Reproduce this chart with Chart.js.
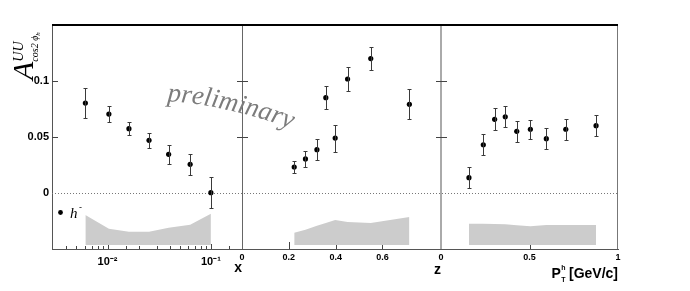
<!DOCTYPE html>
<html>
<head>
<meta charset="utf-8">
<script src="https://cdn.jsdelivr.net/npm/chart.js@4"></script>
<style>
  html, body { margin: 0; padding: 0; background: #fff; }
  #wrap { width: 690px; height: 291px; }
</style>
</head>
<body>
<div id="wrap"><canvas id="c" width="690" height="291"></canvas></div>
<script>
// A_UU cos2phi_h, h- : vs x (log), z, pT
var xBins = [0.0061, 0.0103, 0.0161, 0.0252, 0.039, 0.063, 0.1];
var xVals = [0.0803, 0.0705, 0.0574, 0.047, 0.0345, 0.0256, 0.0003];
var xErrs = [0.0137, 0.0074, 0.006, 0.0065, 0.0085, 0.0094, 0.014];
var xSys  = [-0.0196, -0.0319, -0.0345, -0.0345, -0.031, -0.0283, -0.0185];

var zBins = [0.223, 0.271, 0.32, 0.358, 0.398, 0.451, 0.55, 0.715];
var zVals = [0.0232, 0.0304, 0.0387, 0.0851, 0.049, 0.1018, 0.12, 0.0792];
var zErrs = [0.005, 0.007, 0.0094, 0.0105, 0.012, 0.0107, 0.0101, 0.0134];
var zSys  = [-0.0354, -0.0328, -0.0292, -0.0268, -0.024, -0.026, -0.0268, -0.0214];

var ptBins = [0.158, 0.239, 0.303, 0.363, 0.428, 0.505, 0.595, 0.705, 0.876];
var ptVals = [0.0137, 0.0431, 0.0658, 0.0681, 0.0551, 0.0569, 0.0485, 0.0569, 0.0601];
var ptErrs = [0.0094, 0.0094, 0.0097, 0.0094, 0.0094, 0.0087, 0.0094, 0.0095, 0.0095];
var ptSys  = [-0.0275, -0.0275, -0.0276, -0.028, -0.0288, -0.0296, -0.0286, -0.0285, -0.0285];
var sysBase = -0.0464;

var yTicks = [0, 0.05, 0.1];
var xTickLabels = { '-2': '10\u207B\u00B2', '-1': '10\u207B\u00B9' };

function pts(bins, vals) {
  return bins.map(function (b, i) { return { x: b, y: vals[i] }; });
}
function pointSet(bins, vals, errs, axis) {
  return {
    type: 'scatter', xAxisID: axis, yAxisID: 'y', order: 0,
    data: pts(bins, vals), errors: errs,
    pointRadius: 2.6, pointBackgroundColor: '#000', pointBorderWidth: 0
  };
}
function bandSet(bins, sys, axis) {
  return {
    type: 'line', xAxisID: axis, yAxisID: 'y', order: 5,
    data: pts(bins, sys), pointRadius: 0, borderWidth: 0,
    borderColor: '#cccccc', backgroundColor: '#cccccc',
    fill: { value: sysBase }, tension: 0
  };
}

var labelFont = { family: '"Liberation Sans", Arial, sans-serif', weight: 'bold' };

var errorBars = {
  id: 'errorBars',
  afterDatasetsDraw: function (chart) {
    var ctx = chart.ctx, ys = chart.scales.y;
    chart.data.datasets.forEach(function (ds, i) {
      if (!ds.errors) return;
      var meta = chart.getDatasetMeta(i);
      ctx.save();
      ctx.strokeStyle = '#3a3a3a';
      ctx.lineWidth = 1;
      meta.data.forEach(function (el, j) {
        var v = ds.data[j].y, e = ds.errors[j];
        var t = Math.round(ys.getPixelForValue(v + e)) + 0.5;
        var b = Math.round(ys.getPixelForValue(v - e)) + 0.5;
        var px = Math.round(el.x) + 0.5;
        ctx.beginPath();
        ctx.moveTo(px, t); ctx.lineTo(px, b);
        ctx.moveTo(px - 2, t); ctx.lineTo(px + 2, t);
        ctx.moveTo(px - 2, b); ctx.lineTo(px + 2, b);
        ctx.stroke();
      });
      ctx.restore();
    });
  }
};

var frame = {
  id: 'frame',
  beforeDatasetsDraw: function (chart) {
    var ctx = chart.ctx, a = chart.chartArea, ys = chart.scales.y;
    var y0 = Math.round(ys.getPixelForValue(0)) + 0.5;
    ctx.save();
    ctx.strokeStyle = '#777';
    ctx.lineWidth = 1;
    ctx.setLineDash([1, 2]);
    ctx.beginPath(); ctx.moveTo(a.left, y0); ctx.lineTo(a.right, y0); ctx.stroke();
    ctx.setLineDash([]);
    // inward ticks on the bottom axes
    var lens = { x1: [5, 3], x2: [7, 3], x3: [4, 2] };
    ['x1', 'x2', 'x3'].forEach(function (id) {
      var s = chart.scales[id];
      ctx.strokeStyle = '#444';
      s.ticks.forEach(function (t) {
        if (t.value <= s.min * 1.0001 || t.value >= s.max * 0.9999) return;
        var px = Math.round(s.getPixelForValue(t.value)) + 0.5;
        var len = t.label ? lens[id][0] : lens[id][1];
        ctx.beginPath(); ctx.moveTo(px, a.bottom); ctx.lineTo(px, a.bottom - len); ctx.stroke();
      });
    });
    ctx.restore();
  },
  afterDatasetsDraw: function (chart) {
    var ctx = chart.ctx, a = chart.chartArea, ys = chart.scales.y;
    var s1 = chart.scales.x1, s2 = chart.scales.x2, s3 = chart.scales.x3;
    ctx.save();
    ctx.lineWidth = 1;
    ctx.strokeStyle = '#666';
    ctx.beginPath(); ctx.moveTo(Math.round(s1.right) + 0.5, a.top); ctx.lineTo(Math.round(s1.right) + 0.5, a.bottom); ctx.stroke();
    ctx.strokeStyle = '#aaa'; ctx.lineWidth = 2;
    ctx.beginPath(); ctx.moveTo(Math.round(s2.right), a.top); ctx.lineTo(Math.round(s2.right), a.bottom); ctx.stroke();
    ctx.strokeStyle = '#777'; ctx.lineWidth = 1;
    ctx.beginPath(); ctx.moveTo(Math.round(s3.right) - 0.5, a.top); ctx.lineTo(Math.round(s3.right) - 0.5, a.bottom); ctx.stroke();
    // y ticks at panel edges
    ctx.strokeStyle = '#444';
    yTicks.forEach(function (v) {
      if (v === 0) return;
      var py = Math.round(ys.getPixelForValue(v)) + 0.5;
      ctx.beginPath();
      ctx.moveTo(s1.left, py); ctx.lineTo(s1.left + 6, py);
      ctx.moveTo(s2.left - 5, py); ctx.lineTo(s2.left + 6, py);
      ctx.moveTo(s3.left - 5, py); ctx.lineTo(s3.left + 6, py);
      ctx.stroke();
    });
    // top border
    ctx.strokeStyle = '#000'; ctx.lineWidth = 2;
    ctx.beginPath(); ctx.moveTo(a.left, a.top); ctx.lineTo(a.right, a.top); ctx.stroke();
    ctx.restore();
  },
  afterDraw: function (chart) {
    var ctx = chart.ctx, s3 = chart.scales.x3;
    ctx.save();
    ctx.fillStyle = '#000';
    ctx.textBaseline = 'alphabetic';
    // y title A^{UU}_{cos2 phi_h}
    ctx.save();
    ctx.translate(33, 80);
    ctx.rotate(-Math.PI / 2);
    ctx.font = 'italic 30px "Liberation Serif", serif';
    ctx.fillText('A', 0, 0);
    var wA = ctx.measureText('A').width;
    ctx.font = 'italic 14px "Liberation Serif", serif';
    ctx.fillText('UU', wA, -10);
    ctx.font = 'italic 10px "Liberation Serif", serif';
    ctx.fillText('cos2 \u03D5', wA, 5);
    var wc = ctx.measureText('cos2 \u03D5').width;
    ctx.font = 'italic 7px "Liberation Serif", serif';
    ctx.fillText('h', wA + wc, 7);
    ctx.restore();

    // pT axis title
    var big = 'bold 14px "Liberation Sans", Arial, sans-serif';
    var small = 'bold 7px "Liberation Sans", Arial, sans-serif';
    ctx.font = big;
    var wP = ctx.measureText('P').width, wU = ctx.measureText(' [GeV/c]').width;
    ctx.font = small;
    var wS = Math.max(ctx.measureText('h').width, ctx.measureText('T').width);
    var bx = s3.right - (wP + wS + wU), by = 278;
    ctx.font = big;
    ctx.fillText('P', bx, by);
    ctx.fillText(' [GeV/c]', bx + wP + wS, by);
    ctx.font = small;
    ctx.fillText('h', bx + wP + 0.5, by - 8);
    ctx.fillText('T', bx + wP + 0.5, by + 4);

    // legend
    var a = chart.chartArea;
    ctx.beginPath();
    ctx.arc(a.left + 8.5, 212.5, 2.4, 0, Math.PI * 2);
    ctx.fill();
    ctx.font = 'italic 15px "Liberation Serif", serif';
    ctx.fillText('h', a.left + 18, 217.5);
    ctx.font = '9px "Liberation Sans", sans-serif';
    ctx.fillText('-', a.left + 27, 210);

    // preliminary stamp, slightly curved
    ctx.fillStyle = '#7c7c7c';
    ctx.font = 'italic 27px "Liberation Serif", serif';
    var word = 'preliminary';
    var px = 167, py = 101, a0 = 5 * Math.PI / 180, a1 = 20 * Math.PI / 180;
    for (var i = 0; i < word.length; i++) {
      var ang = a0 + (a1 - a0) * i / (word.length - 1);
      var w = ctx.measureText(word[i]).width;
      ctx.save();
      ctx.translate(px, py);
      ctx.rotate(ang);
      ctx.fillText(word[i], 0, 0);
      ctx.restore();
      px += w * Math.cos(ang);
      py += w * Math.sin(ang);
    }
    ctx.restore();
  }
};

function fixH(h) { return function (s) { s.height = h; }; }

new Chart(document.getElementById('c'), {
  type: 'scatter',
  data: {
    datasets: [
      pointSet(xBins, xVals, xErrs, 'x1'),
      pointSet(zBins, zVals, zErrs, 'x2'),
      pointSet(ptBins, ptVals, ptErrs, 'x3'),
      bandSet(xBins, xSys, 'x1'),
      bandSet(zBins, zSys, 'x2'),
      bandSet(ptBins, ptSys, 'x3')
    ]
  },
  options: {
    responsive: false,
    animation: false,
    devicePixelRatio: 1,
    events: [],
    layout: { padding: { left: 0, right: 72, top: 25, bottom: 0 } },
    plugins: { legend: { display: false }, tooltip: { enabled: false } },
    scales: {
      y: {
        position: 'left', min: -0.05, max: 0.15,
        afterFit: function (s) { s.width = 52; },
        grid: { display: false, drawTicks: false, tickLength: 0 },
        border: { display: true, color: '#555', width: 1 },
        ticks: {
          stepSize: 0.05, padding: 3, color: '#000', font: Object.assign({ size: 11 }, labelFont),
          callback: function (v) {
            for (var i = 0; i < yTicks.length; i++) {
              if (Math.abs(v - yTicks[i]) < 1e-6) return String(yTicks[i]);
            }
            return '';
          }
        }
      },
      x1: {
        type: 'logarithmic', position: 'bottom', stack: 'xs', stackWeight: 190,
        min: 0.0029, max: 0.2,
        afterFit: fixH(42),
        grid: { display: false, drawTicks: false, tickLength: 0 },
        border: { display: true, color: '#555', width: 1 },
        ticks: {
          autoSkip: false, maxRotation: 0, padding: 6, color: '#000',
          font: Object.assign({ size: 11 }, labelFont),
          callback: function (v) {
            var l = Math.log10(v), r = Math.round(l);
            return Math.abs(l - r) < 1e-6 && xTickLabels[r] ? xTickLabels[r] : '';
          }
        },
        title: { display: true, text: 'x', align: 'end', color: '#000',
          font: Object.assign({ size: 14 }, labelFont), padding: { top: 0, bottom: 14 } }
      },
      x2: {
        type: 'linear', position: 'bottom', stack: 'xs', stackWeight: 199,
        min: 0, max: 0.85,
        afterFit: fixH(42),
        grid: { display: false, drawTicks: false, tickLength: 0 },
        border: { display: true, color: '#555', width: 1 },
        ticks: {
          stepSize: 0.2, autoSkip: false, maxRotation: 0, padding: 3, color: '#000',
          font: Object.assign({ size: 9 }, labelFont),
          callback: function (v) {
            return Math.abs(v * 5 - Math.round(v * 5)) < 1e-6 ? String(+v.toFixed(1)) : '';
          }
        },
        title: { display: true, text: 'z', align: 'end', color: '#000',
          font: Object.assign({ size: 14 }, labelFont), padding: { top: 0, bottom: 12 } }
      },
      x3: {
        type: 'linear', position: 'bottom', stack: 'xs', stackWeight: 177,
        min: 0, max: 1,
        afterFit: fixH(42),
        grid: { display: false, drawTicks: false, tickLength: 0 },
        border: { display: true, color: '#555', width: 1 },
        ticks: {
          stepSize: 0.5, autoSkip: false, maxRotation: 0, padding: 3, color: '#000',
          font: Object.assign({ size: 9 }, labelFont),
          callback: function (v) { return String(+v.toFixed(1)); }
        }
      }
    }
  },
  plugins: [frame, errorBars]
});
</script>
</body>
</html>
